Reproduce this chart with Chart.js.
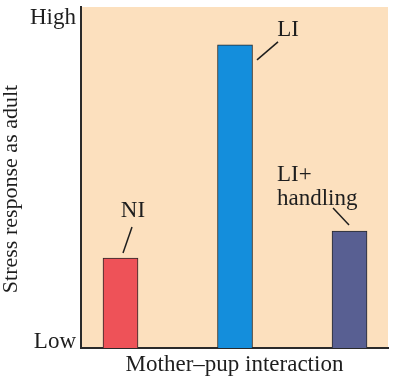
<!DOCTYPE html>
<html>
<head>
<meta charset="utf-8">
<script src="https://cdn.jsdelivr.net/npm/chart.js@4"></script>
<style>
  body { margin: 0; background: #ffffff; }
  canvas { display: block; }
</style>
</head>
<body>
<canvas id="stressChart" width="394" height="384"></canvas>
<script>
// data (0 = Low, 100 = High)
const categories = ['NI', 'LI', 'LI+ handling'];
const stressValues = [26.4, 88.9, 34.3];
const barColors = ['#EE5258', '#148EDC', '#585F92'];
const tickValues = [1.8, 96.9];
const tickLabels = ['Low', 'High'];
const yTitle = 'Stress response as adult';
const xTitle = 'Mother\u2013pup interaction';

// callout placement relative to top-centre of each bar
const callouts = [
    { lines: ['NI'], align: 'center', dx: 12.5, dy: -41, line: [2.5, -5, 11.5, -31] },
    { lines: ['LI'], align: 'center', dx: 53, dy: -9, line: [22, 15, 43, -3] },
    { lines: ['LI+', 'handling'], align: 'left', dx: -72.5, dy: -50, line: [-16.5, -23, -0.5, -6] }
];

const serif = '"Liberation Serif", "DejaVu Serif", serif';
const ink = '#1e1e1e';

const chartBackground = {
    id: 'chartBackground',
    beforeDraw(chart) {
        const { ctx, chartArea } = chart;
        ctx.save();
        ctx.fillStyle = '#FCE0BE';
        ctx.fillRect(chartArea.left, chartArea.top, chartArea.right - chartArea.left, chartArea.bottom - chartArea.top);
        ctx.restore();
    }
};

const barCallouts = {
    id: 'barCallouts',
    afterDatasetsDraw(chart) {
        const ctx = chart.ctx;
        const meta = chart.getDatasetMeta(0);
        ctx.save();
        ctx.font = '23px ' + serif;
        ctx.fillStyle = ink;
        ctx.strokeStyle = ink;
        ctx.lineWidth = 1.5;
        meta.data.forEach((bar, i) => {
            const c = callouts[i];
            ctx.beginPath();
            ctx.moveTo(bar.x + c.line[0], bar.y + c.line[1]);
            ctx.lineTo(bar.x + c.line[2], bar.y + c.line[3]);
            ctx.stroke();
            ctx.textAlign = c.align;
            ctx.textBaseline = 'alphabetic';
            c.lines.forEach((t, k) => {
                ctx.fillText(t, bar.x + c.dx, bar.y + c.dy + k * 24);
            });
        });

        // y axis title
        ctx.font = '22px ' + serif;
        ctx.translate(11, 189);
        ctx.rotate(-Math.PI / 2);
        ctx.textAlign = 'center';
        ctx.textBaseline = 'middle';
        ctx.fillText(yTitle, 0, 0);
        ctx.restore();
    }
};

const ctx = document.getElementById('stressChart').getContext('2d');
new Chart(ctx, {
    type: 'bar',
    data: {
        labels: categories,
        datasets: [{
            data: stressValues.map((v, i) => ({ x: i + 1, y: v })),
            backgroundColor: barColors,
            borderColor: '#2a2a2a',
            borderWidth: 1,
            barThickness: 35
        }]
    },
    options: {
        responsive: false,
        animation: false,
        layout: { padding: { top: 7, right: 6, left: 0, bottom: 0 } },
        plugins: {
            legend: { display: false },
            tooltip: { enabled: false }
        },
        scales: {
            x: {
                type: 'linear',
                min: 0.655,
                max: 3.336,
                offset: false,
                grid: { display: false, drawTicks: false },
                ticks: { display: false },
                border: { display: true, color: '#2a2a2a', width: 2 },
                title: {
                    display: true,
                    text: xTitle,
                    color: ink,
                    font: { family: serif, size: 23 },
                    padding: { top: 0, bottom: 5 }
                },
                afterFit: (scale) => {
                    scale.height = 36;
                    scale.paddingLeft = 0;
                    scale.paddingRight = 0;
                }
            },
            y: {
                min: 0,
                max: 100,
                grid: { display: false, drawTicks: false },
                border: { display: true, color: '#2a2a2a', width: 2 },
                afterBuildTicks: (scale) => {
                    scale.ticks = tickValues.map(v => ({ value: v }));
                },
                ticks: {
                    padding: 5,
                    color: ink,
                    font: { family: serif, size: 23 },
                    callback: (value, index) => tickLabels[index]
                },
                afterFit: (scale) => {
                    scale.width = 81;
                    scale.paddingTop = 0;
                    scale.paddingBottom = 0;
                }
            }
        }
    },
    plugins: [chartBackground, barCallouts]
});
</script>
</body>
</html>
